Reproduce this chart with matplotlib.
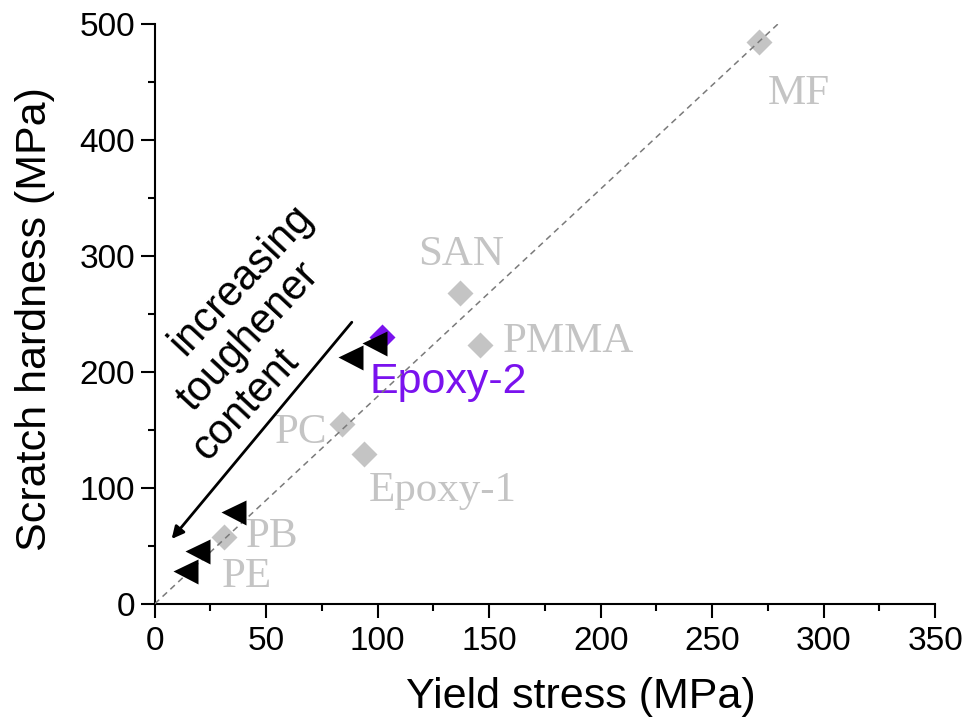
import matplotlib
matplotlib.use("Agg")
import matplotlib.pyplot as plt
from matplotlib.ticker import MultipleLocator
import numpy as np

# reference polymers (grey diamonds)
polymers = ["MF", "SAN", "PMMA", "PC", "Epoxy-1", "PB", "PE"]
poly_yield = [271, 137, 146, 84, 94, 31]
poly_hard = [485, 268, 223, 155, 129, 58]
# label anchor points (data units), one per polymer name
label_x = [275, 118, 156, 54, 96, 41, 30]
label_y = [440, 301, 226, 148, 98, 58, 23]

# toughened epoxy series (black triangles)
tough_yield = [98.5, 87.5, 35, 19, 13.5]
tough_hard = [225, 213, 79, 46, 28]

# neat epoxy
epoxy2_yield = [102]
epoxy2_hard = [230]

fit_slope = 1.79

# arrow note, one rotated line each
note_lines = ["increasing", "toughener", "content"]
note_x = [39.0, 42.2, 40.8]
note_y = [279, 230.6, 172]

grey = "#c4c4c4"
purple = "#7a12ee"

fig, ax = plt.subplots(figsize=(9.67, 7.18), dpi=100)
fig.subplots_adjust(left=0.160, right=0.967, bottom=0.159, top=0.966)

xs = np.array([0, 281])
ax.plot(xs, fit_slope * xs, ls=(0, (4, 3)), color="#7a7a7a", lw=1.1, zorder=4)

ax.plot(poly_yield, poly_hard, "D", color=grey, ms=13.5, mec="none", zorder=3)
ax.plot(epoxy2_yield, epoxy2_hard, "D", color=purple, ms=13, mec="none", zorder=3)
ax.plot(tough_yield, tough_hard, "<", color="black", ms=18, mec="none", zorder=5)

for name, lx, ly in zip(polymers, label_x, label_y):
    ax.text(lx, ly, name, color=grey, fontsize=31, family="Liberation Serif",
            ha="left", va="center")
ax.text(96.5, 191.5, "Epoxy-2", color=purple, fontsize=31,
        family="Liberation Sans", ha="left", va="center")

ax.annotate("", xy=(7.6, 56), xytext=(88.4, 243),
            arrowprops=dict(arrowstyle="-|>", color="black", lw=2,
                            mutation_scale=18, shrinkA=0, shrinkB=0))
for line, nx, ny in zip(note_lines, note_x, note_y):
    ax.text(nx, ny, line, rotation=47, rotation_mode="anchor",
            ha="center", va="center", fontsize=30, family="Liberation Sans")

ax.set_xlim(0, 350)
ax.set_ylim(0, 500)
ax.xaxis.set_major_locator(MultipleLocator(50))
ax.xaxis.set_minor_locator(MultipleLocator(25))
ax.yaxis.set_major_locator(MultipleLocator(100))
ax.yaxis.set_minor_locator(MultipleLocator(50))

for side in ["top", "right"]:
    ax.spines[side].set_visible(False)
for side in ["left", "bottom"]:
    ax.spines[side].set_linewidth(1.5)

ax.tick_params(which="major", direction="out", length=10, width=1.5)
ax.tick_params(which="minor", direction="out", length=5, width=1.5)
ax.tick_params(axis="x", labelsize=24, pad=6)
ax.tick_params(axis="y", labelsize=24, pad=4)
for lab in ax.get_xticklabels() + ax.get_yticklabels():
    lab.set_family("Liberation Sans")

ax.set_xlabel("Yield stress (MPa)", fontsize=31, family="Liberation Sans", va="baseline")
ax.xaxis.set_label_coords(0.546, -0.18)
ax.set_ylabel("Scratch hardness (MPa)", fontsize=31, family="Liberation Sans")
ax.yaxis.set_label_coords(-0.128, 0.492)

fig.savefig("out.png", dpi=100)
